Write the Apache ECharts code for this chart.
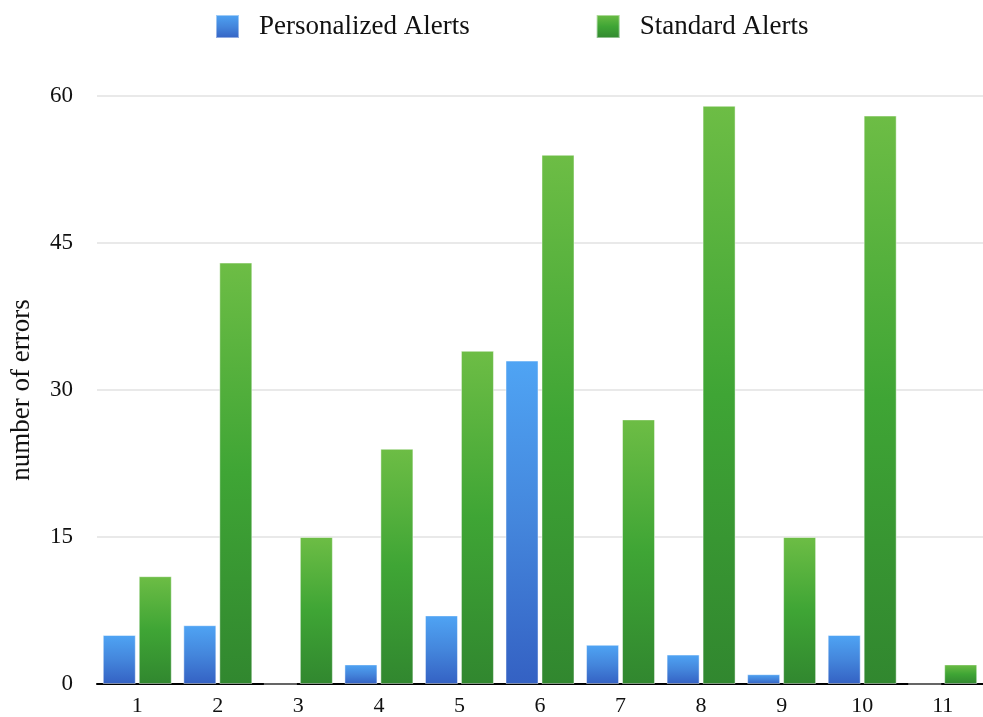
<!DOCTYPE html>
<html>
<head>
<meta charset="utf-8">
<script src="https://cdn.jsdelivr.net/npm/echarts@6/dist/echarts.min.js"></script>
<style>
  html, body { margin: 0; padding: 0; background: #fff; }
  #chart { width: 983px; height: 717px; }
</style>
</head>
<body>
<div id="chart"></div>
<script>
// Error counts per participant, personalized vs. standard alerts
const categories = ['1', '2', '3', '4', '5', '6', '7', '8', '9', '10', '11'];
const personalized = [5, 6, 0, 2, 7, 33, 4, 3, 1, 5, 0];
const standard = [11, 43, 15, 24, 34, 54, 27, 59, 15, 58, 2];
const yTicks = { min: 0, max: 60, interval: 15 };

const FONT = '"Liberation Serif", "Times New Roman", serif';

function vGrad(top, mid, bottom) {
  return new echarts.graphic.LinearGradient(0, 0, 0, 1, [
    { offset: 0, color: top },
    { offset: 0.5, color: mid },
    { offset: 1, color: bottom }
  ]);
}

const blueFill = vGrad('#4fa4f4', '#4486dc', '#3461c3');
const greenFill = vGrad('#6dbd45', '#3fa535', '#31872f');

const chart = echarts.init(document.getElementById('chart'), null, { renderer: 'canvas' });

chart.setOption({
  animation: false,
  backgroundColor: '#ffffff',
  textStyle: { fontFamily: FONT, color: '#000' },
  legend: {
    top: 8,
    left: 210,
    itemWidth: 23,
    itemHeight: 23,
    itemGap: 126,
    icon: 'rect',
    textStyle: {
      fontFamily: FONT,
      fontSize: 27,
      color: '#111',
      padding: [0, 0, 0, 15]
    },
    data: ['Personalized Alerts', 'Standard Alerts']
  },
  grid: {
    left: 94,
    top: 96,
    width: 899,
    bottom: 32,
    containLabel: false
  },
  xAxis: {
    type: 'category',
    data: categories,
    axisLine: { show: true, lineStyle: { color: '#000', width: 2 } },
    axisTick: { show: false },
    axisLabel: {
      fontFamily: FONT,
      fontSize: 22,
      color: '#111',
      margin: 11
    }
  },
  yAxis: {
    type: 'value',
    min: yTicks.min,
    max: yTicks.max,
    interval: yTicks.interval,
    name: 'number of errors',
    nameLocation: 'middle',
    nameGap: 62,
    nameTextStyle: { fontFamily: FONT, fontSize: 27, color: '#111' },
    axisLine: { show: false },
    axisTick: { show: false },
    axisLabel: {
      fontFamily: FONT,
      fontSize: 23,
      color: '#111',
      margin: 24
    },
    splitLine: { show: true, lineStyle: { color: '#e2e2e2', width: 1.5 } }
  },
  series: [
    {
      name: 'Personalized Alerts',
      type: 'bar',
      data: personalized,
      barWidth: 33,
      barGap: '9%',
      itemStyle: {
        color: blueFill,
        borderColor: 'rgba(255,255,255,0.45)',
        borderWidth: 1
      }
    },
    {
      name: 'Standard Alerts',
      type: 'bar',
      data: standard,
      barWidth: 33,
      barGap: '9%',
      itemStyle: {
        color: greenFill,
        borderColor: 'rgba(255,255,255,0.45)',
        borderWidth: 1
      }
    }
  ]
});
</script>
</body>
</html>
